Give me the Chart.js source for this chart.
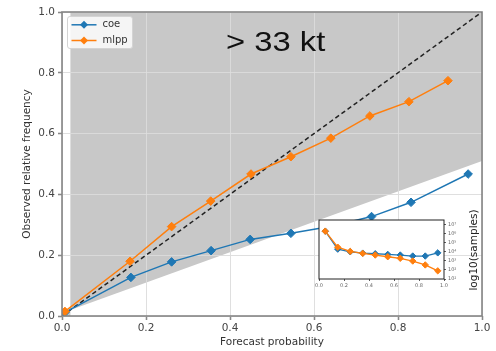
<!DOCTYPE html>
<html>
<head>
<meta charset="utf-8">
<script src="https://cdn.jsdelivr.net/npm/chart.js@4.4.0/dist/chart.umd.min.js"></script>
<style>
  html, body { margin: 0; padding: 0; background: #fff; }
  #wrap { position: relative; width: 496px; height: 351px; overflow: hidden; }
  #mainChart { position: absolute; left: 0; top: 0; }
  #insetChart { position: absolute; left: 311px; top: 215px; }
  #threshold {
    position: absolute; left: 226px; top: 28px;
    font: 28px/28px "Liberation Sans", Arial, sans-serif; color: #111;
    transform: scaleX(1.17); transform-origin: left top; white-space: nowrap;
  }
  #insetLabel {
    position: absolute; left: 473px; top: 250px;
    font: 10.5px "DejaVu Sans", sans-serif; color: #222; white-space: nowrap;
    transform: translate(-50%, -50%) rotate(-90deg);
  }
</style>
</head>
<body>
<div id="wrap">
  <canvas id="mainChart" width="496" height="351"></canvas>
  <canvas id="insetChart" width="155" height="78"></canvas>
  <div id="threshold">&gt; 33 kt</div>
  <div id="insetLabel">log10(samples)</div>
</div>
<script>
// =========================
// Data
// =========================
const probTicks = [0, 0.2, 0.4, 0.6, 0.8, 1.0];

const coeProb = [0.007, 0.164, 0.261, 0.355, 0.448, 0.545, 0.642, 0.737, 0.831, 0.967];
const coeObs  = [0.012, 0.127, 0.178, 0.215, 0.252, 0.272, 0.295, 0.327, 0.374, 0.467];

const mlppProb = [0.007, 0.162, 0.261, 0.354, 0.450, 0.545, 0.640, 0.733, 0.826, 0.919];
const mlppObs  = [0.015, 0.180, 0.294, 0.378, 0.467, 0.524, 0.585, 0.658, 0.705, 0.774];

// climatological frequency (sets the skill region)
const climFreq = 0.02;

// inset: log10 of sample counts per bin
const insetBins = [0.05, 0.15, 0.25, 0.35, 0.45, 0.55, 0.65, 0.75, 0.85, 0.95];
const coeLogN  = [6.27, 4.29, 4.00, 3.85, 3.78, 3.71, 3.64, 3.53, 3.53, 3.88];
const mlppLogN = [6.27, 4.50, 4.04, 3.82, 3.64, 3.45, 3.28, 2.98, 2.55, 1.90];
const insetLogTicks = [1, 2, 3, 4, 5, 6, 7];

const BLUE = "#1f77b4";
const ORANGE = "#ff7f0e";

Chart.defaults.font.family = "'DejaVu Sans', sans-serif";
Chart.defaults.animation = false;

const pairs = (xs, ys) => xs.map((x, i) => ({ x: x, y: ys[i] }));
const sup = { 0: "⁰", 1: "¹", 2: "²", 3: "³", 4: "⁴", 5: "⁵", 6: "⁶", 7: "⁷", 8: "⁸", 9: "⁹" };

// =========================
// Plugins
// =========================
// redraw the grid right after the grey skill area so the lines show on it
const gridOverShade = {
  id: "gridOverShade",
  afterDatasetDraw(chart, args) {
    if (!chart.data.datasets[args.index].shade) return;
    chart.scales.x.drawGrid(chart.chartArea);
    chart.scales.y.drawGrid(chart.chartArea);
  },
};

function framePlugin(color, width) {
  return {
    id: "frame",
    afterDraw(chart) {
      const { ctx, chartArea: a } = chart;
      ctx.save();
      ctx.strokeStyle = color;
      ctx.lineWidth = width;
      ctx.strokeRect(a.left, a.top, a.right - a.left, a.bottom - a.top);
      ctx.restore();
    },
  };
}

const whiteArea = {
  id: "whiteArea",
  beforeDraw(chart) {
    const { ctx, chartArea: a } = chart;
    ctx.save();
    ctx.fillStyle = "#fff";
    ctx.fillRect(a.left, a.top, a.right - a.left, a.bottom - a.top);
    ctx.restore();
  },
};

function diamond(ctx, x, y, r) {
  ctx.beginPath();
  ctx.moveTo(x - r, y);
  ctx.lineTo(x, y - r);
  ctx.lineTo(x + r, y);
  ctx.lineTo(x, y + r);
  ctx.closePath();
  ctx.fill();
}

// legend box drawn inside the axes, matplotlib style
const insideLegend = {
  id: "insideLegend",
  afterDatasetsDraw(chart) {
    const { ctx, chartArea } = chart;
    const items = chart.data.datasets
      .filter((d) => d.legendRank)
      .sort((a, b) => a.legendRank - b.legendRank);
    const x = chartArea.left + 5.5;
    const y = chartArea.top + 4.5;
    const w = 65;
    const h = 32;
    ctx.save();
    ctx.fillStyle = "rgba(255,255,255,0.82)";
    ctx.strokeStyle = "#d4d4d4";
    ctx.lineWidth = 1;
    ctx.beginPath();
    ctx.roundRect(x, y, w, h, 2.5);
    ctx.fill();
    ctx.stroke();
    items.forEach((d, i) => {
      const cy = y + 8.3 + i * 15.7;
      ctx.strokeStyle = d.borderColor;
      ctx.fillStyle = d.borderColor;
      ctx.lineWidth = 1.5;
      ctx.beginPath();
      ctx.moveTo(x + 4, cy);
      ctx.lineTo(x + 29, cy);
      ctx.stroke();
      diamond(ctx, x + 16.5, cy, 4);
      ctx.fillStyle = "#333";
      ctx.font = "10px 'DejaVu Sans', sans-serif";
      ctx.textBaseline = "middle";
      ctx.fillText(d.label, x + 35, cy);
    });
    ctx.restore();
  },
};

// =========================
// Main reliability diagram
// =========================
function renderMainChart() {
  const ctx = document.getElementById("mainChart").getContext("2d");

  new Chart(ctx, {
    type: "line",
    data: {
      datasets: [
        {
          label: "coe",
          legendRank: 1,
          data: pairs(coeProb, coeObs),
          borderColor: BLUE,
          backgroundColor: BLUE,
          borderWidth: 1.5,
          pointStyle: "rectRot",
          pointRadius: 4.3,
          pointBorderWidth: 1,
          order: 2,
        },
        {
          label: "mlpp",
          legendRank: 2,
          data: pairs(mlppProb, mlppObs),
          borderColor: ORANGE,
          backgroundColor: ORANGE,
          borderWidth: 1.5,
          pointStyle: "rectRot",
          pointRadius: 4.3,
          pointBorderWidth: 1,
          order: 1,
        },
        {
          label: "perfect",
          data: pairs([0, 1], [0, 1]),
          borderColor: "#222",
          borderWidth: 1.5,
          borderDash: [4.5, 3],
          pointRadius: 0,
          order: 3,
        },
        {
          label: "skill",
          shade: true,
          data: pairs(
            [climFreq, 1, 1, climFreq],
            [climFreq, (1 + climFreq) / 2, 1, 1]
          ),
          borderWidth: 0,
          borderColor: "rgba(0,0,0,0)",
          backgroundColor: "#c8c8c8",
          fill: "shape",
          pointRadius: 0,
          order: 5,
        },
        {
          label: "skillLow",
          shade: true,
          data: pairs(
            [0, 0, climFreq, climFreq],
            [0, climFreq / 2, climFreq, 0]
          ),
          borderWidth: 0,
          borderColor: "rgba(0,0,0,0)",
          backgroundColor: "#c8c8c8",
          fill: "shape",
          pointRadius: 0,
          order: 6,
        },
      ],
    },
    options: {
      responsive: false,
      layout: { padding: { left: 0, top: 12, right: 14, bottom: 0 } },
      plugins: {
        legend: { display: false },
        tooltip: { enabled: false },
      },
      scales: {
        x: {
          type: "linear",
          min: 0,
          max: 1,
          afterBuildTicks: (s) => { s.ticks = probTicks.map((v) => ({ value: v })); },
          afterFit: (s) => { s.height = 35; s.paddingLeft = 0; s.paddingRight = 0; },
          ticks: {
            callback: (v) => v.toFixed(1),
            font: { size: 10.5 },
            color: "#444",
            padding: 2,
            maxRotation: 0,
            autoSkip: false,
          },
          grid: { color: "#dedede", lineWidth: 0.8, tickLength: 4, tickColor: "#888", tickWidth: 1.2 },
          border: { display: false },
          title: {
            display: true,
            text: "Forecast probability",
            font: { size: 10.5 },
            color: "#333",
            padding: { top: 0, bottom: 2 },
          },
        },
        y: {
          type: "linear",
          min: 0,
          max: 1,
          afterBuildTicks: (s) => { s.ticks = probTicks.map((v) => ({ value: v })); },
          afterFit: (s) => { s.width = 62; s.paddingTop = 0; s.paddingBottom = 0; },
          ticks: {
            callback: (v) => v.toFixed(1),
            font: { size: 10.5 },
            color: "#444",
            padding: 3,
            autoSkip: false,
          },
          grid: { color: "#dedede", lineWidth: 0.8, tickLength: 4, tickColor: "#888", tickWidth: 1.2 },
          border: { display: false },
          title: {
            display: true,
            text: "Observed relative frequency",
            font: { size: 10.5 },
            color: "#333",
            padding: { top: 21, bottom: 0 },
          },
        },
      },
    },
    plugins: [gridOverShade, insideLegend, framePlugin("#858585", 1.6)],
  });
}

// =========================
// Inset: sample counts
// =========================
function renderInsetChart() {
  const ctx = document.getElementById("insetChart").getContext("2d");

  new Chart(ctx, {
    type: "line",
    data: {
      datasets: [
        {
          label: "mlpp",
          data: pairs(insetBins, mlppLogN),
          borderColor: ORANGE,
          backgroundColor: ORANGE,
          borderWidth: 1.3,
          pointStyle: "rectRot",
          pointRadius: 3.2,
          pointBorderWidth: 1,
          order: 1,
        },
        {
          label: "coe",
          data: pairs(insetBins, coeLogN),
          borderColor: BLUE,
          backgroundColor: BLUE,
          borderWidth: 1.3,
          pointStyle: "rectRot",
          pointRadius: 3.2,
          pointBorderWidth: 1,
          order: 2,
        },
      ],
    },
    options: {
      responsive: false,
      layout: { padding: { left: 8, top: 4, right: 0, bottom: 0 } },
      plugins: {
        legend: { display: false },
        tooltip: { enabled: false },
      },
      scales: {
        x: {
          type: "linear",
          min: 0,
          max: 1,
          afterBuildTicks: (s) => { s.ticks = probTicks.map((v) => ({ value: v })); },
          afterFit: (s) => { s.height = 14; s.paddingLeft = 0; s.paddingRight = 0; },
          ticks: {
            callback: (v) => v.toFixed(1),
            font: { size: 5 },
            color: "#666",
            padding: 2,
            maxRotation: 0,
            autoSkip: false,
          },
          grid: { drawOnChartArea: false, tickLength: 2, tickColor: "#333", tickWidth: 0.8 },
          border: { display: false },
        },
        y: {
          type: "linear",
          position: "right",
          min: 1,
          max: 7.5,
          afterBuildTicks: (s) => { s.ticks = insetLogTicks.map((v) => ({ value: v })); },
          afterFit: (s) => { s.width = 22; s.paddingTop = 0; s.paddingBottom = 0; },
          ticks: {
            callback: (v) => "10" + sup[v],
            font: { size: 5 },
            color: "#666",
            padding: 2,
            autoSkip: false,
          },
          grid: { drawOnChartArea: false, tickLength: 2, tickColor: "#333", tickWidth: 0.8 },
          border: { display: false },
        },
      },
    },
    plugins: [whiteArea, framePlugin("#222", 1)],
  });
}

renderMainChart();
renderInsetChart();
</script>
</body>
</html>
